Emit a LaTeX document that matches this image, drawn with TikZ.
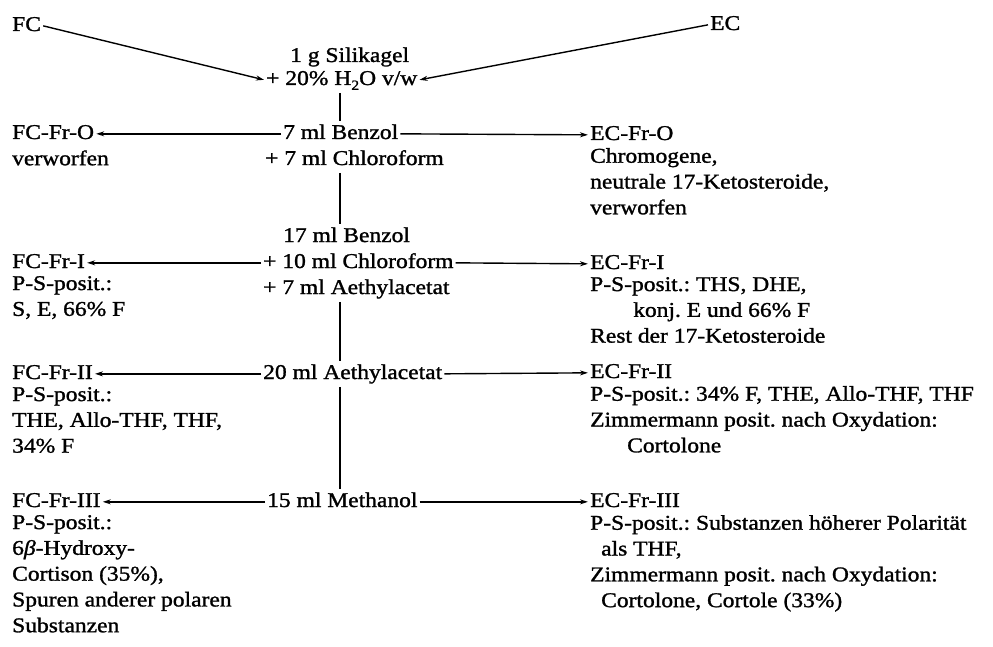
\documentclass[tikz,border=0pt]{standalone}
\usepackage{fontspec}
\setmainfont{Liberation Serif}[FakeStretch=1.12,FakeBold=1.3]
\usetikzlibrary{arrows.meta,positioning}
\frenchspacing

\begin{document}
\begin{tikzpicture}[x=1pt,y=-1pt,
		txt/.style={inner xsep=2pt,inner ysep=0pt,font=\fontsize{21}{25.8}\selectfont,execute at begin node=\strut},
		blk/.style={txt,align=left},
		pfeil/.style={-{Stealth[length=8pt,width=5pt]},line width=1.4pt},
		strich/.style={line width=1.6pt}]
		\useasboundingbox (0,0) rectangle (993,647);
		% Proben
		\node[txt,anchor=base west] (fc) at (10,31) {FC};
		\node[txt,anchor=base west] (ec) at (708,30) {EC};
		% Säule und Elutionsmittel
		\node[txt,anchor=base west] (s1a) at (288,62) {1 g Silikagel};
		\node[txt,anchor=base west] (s1b) at (264,85) {+ 20\% H\raisebox{-0.5ex}{\fontsize{14}{14}\selectfont 2}O v/w};
		\node[txt,anchor=base west] (s2a) at (281,139) {7 ml Benzol};
		\node[txt,anchor=base west] (s2b) at (263,165) {+ 7 ml Chloroform};
		\node[txt,anchor=base west] (s3a) at (281,242) {17 ml Benzol};
		\node[txt,anchor=base west] (s3b) at (261,268) {+ 10 ml Chloroform};
		\node[txt,anchor=base west] (s3c) at (261,294) {+ 7 ml Aethylacetat};
		\node[txt,anchor=base west] (s4) at (261,379) {20 ml Aethylacetat};
		\node[txt,anchor=base west] (s5) at (265,507) {15 ml Methanol};
		\coordinate (ax) at (340,0);
		\draw[pfeil] (fc.east) -- (s1b.west);
		\draw[pfeil] (ec.west) -- (s1b.east);
		\draw[strich] (ax |- s1b.south) -- (ax |- s2a.north);
		\draw[strich] (ax |- s2b.south) -- (ax |- s3a.north);
		\draw[strich] (ax |- s3c.south) -- (ax |- s4.north);
		\draw[strich] (ax |- s4.south) -- (ax |- s5.north);
		% FC-Fraktionen
		\node[txt,anchor=base west] (fc0) at (10,139) {FC-Fr-O};
		\node[blk,below=0pt of fc0.south west,anchor=north west] (fc0d) {verworfen};
		\node[txt,anchor=base west] (fc1) at (10,268) {FC-Fr-I};
		\node[blk,below=0pt of fc1.south west,anchor=north west] (fc1d) {P-S-posit.:\\S, E, 66\% F};
		\node[txt,anchor=base west] (fc2) at (10,379) {FC-Fr-II};
		\node[blk,below=0pt of fc2.south west,anchor=north west] (fc2d) {P-S-posit.:\\THE, Allo-THF, THF,\\34\% F};
		\node[txt,anchor=base west] (fc3) at (10,507) {FC-Fr-III};
		\node[blk,below=0pt of fc3.south west,anchor=north west] (fc3d) {P-S-posit.:\\6\textit{β}-Hydroxy-\\Cortison (35\%),\\Spuren anderer polaren\\Substanzen};
		% EC-Fraktionen
		\node[txt,anchor=base west] (ec0) at (588,140) {EC-Fr-O};
		\node[blk,below=0pt of ec0.south west,anchor=north west] (ec0d) {Chromogene,\\neutrale 17-Ketosteroide,\\verworfen};
		\node[txt,anchor=base west] (ec1) at (588,269) {EC-Fr-I};
		\node[blk,below=0pt of ec1.south west,anchor=north west] (ec1d) {P-S-posit.: THS, DHE,\\\hspace*{43pt}konj. E und 66\% F\\Rest der 17-Ketosteroide};
		\node[txt,anchor=base west] (ec2) at (588,378) {EC-Fr-II};
		\node[blk,below=0pt of ec2.south west,anchor=north west] (ec2d) {P-S-posit.: 34\% F, THE, Allo-THF, THF\\Zimmermann posit. nach Oxydation:\\\hspace*{37pt}Cortolone};
		\node[txt,anchor=base west] (ec3) at (588,507) {EC-Fr-III};
		\node[blk,below=0pt of ec3.south west,anchor=north west] (ec3d) {P-S-posit.: Substanzen höherer Polarität\\\hspace*{11pt}als THF,\\Zimmermann posit. nach Oxydation:\\\hspace*{11pt}Cortolone, Cortole (33\%)};
		% Elution
		\draw[pfeil] (s2a.west) -- (fc0.east);
		\draw[pfeil] (s2a.east) -- (ec0.west);
		\draw[pfeil] (s3b.west) -- (fc1.east);
		\draw[pfeil] (s3b.east) -- (ec1.west);
		\draw[pfeil] (s4.west) -- (fc2.east);
		\draw[pfeil] (s4.east) -- (ec2.west);
		\draw[pfeil] (s5.west) -- (fc3.east);
		\draw[pfeil] (s5.east) -- (ec3.west);
	\end{tikzpicture}
\end{document}
